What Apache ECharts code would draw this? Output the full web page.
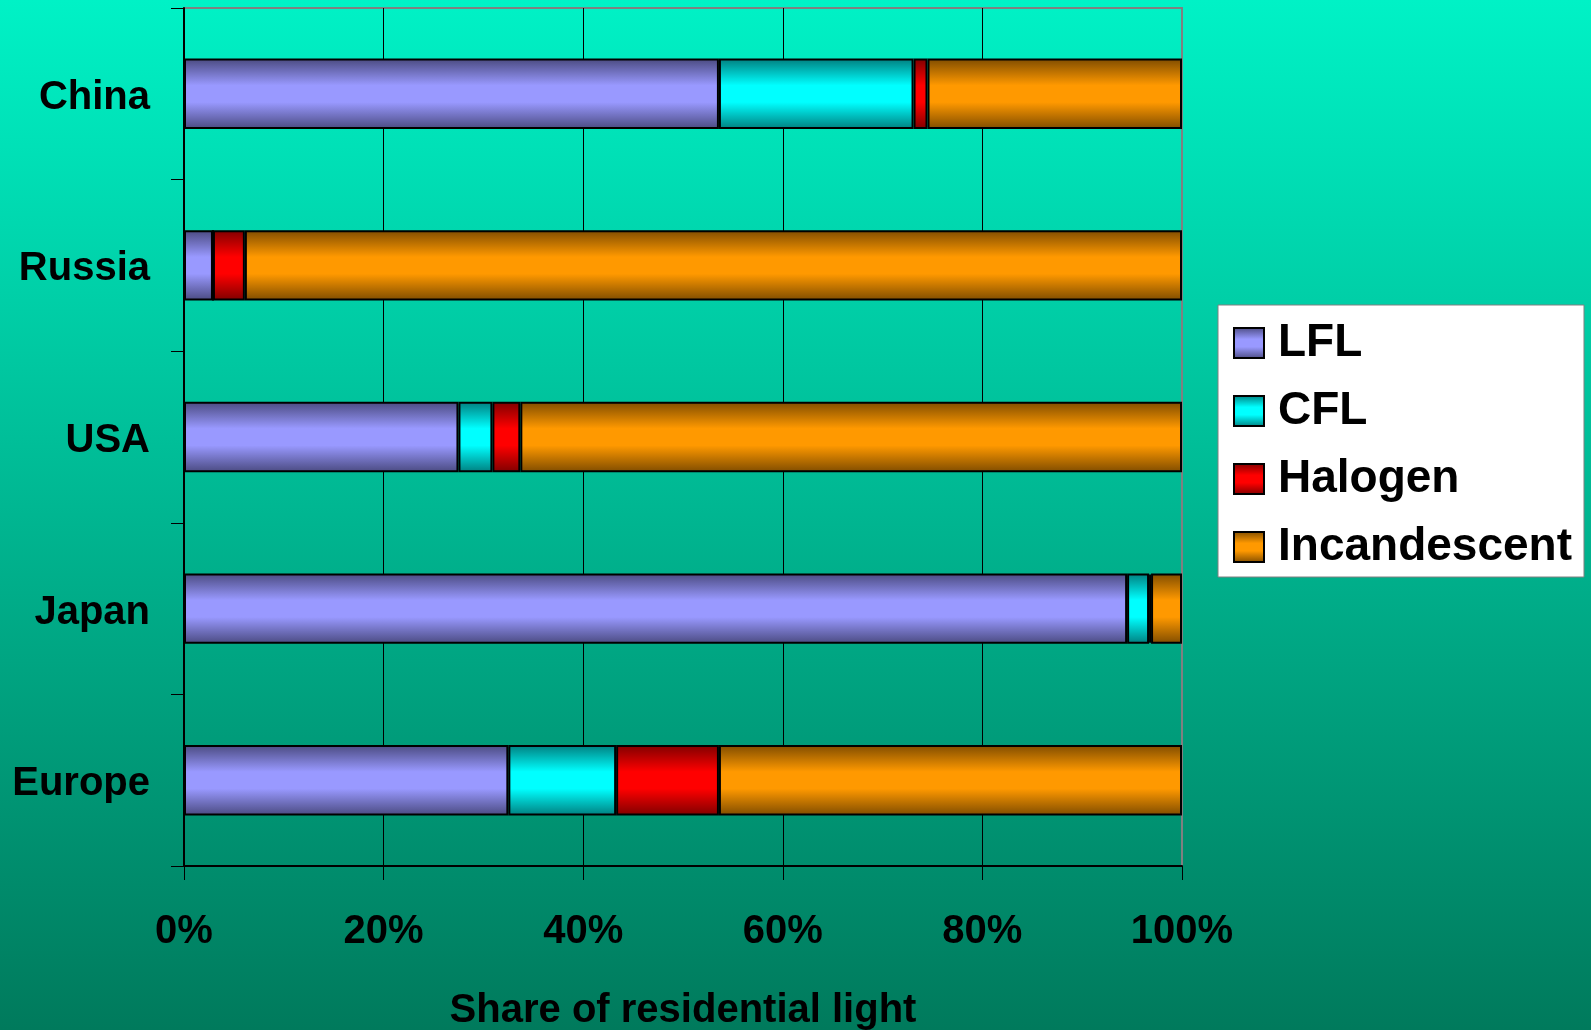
<!DOCTYPE html>
<html>
<head>
<meta charset="utf-8">
<script src="https://cdn.jsdelivr.net/npm/echarts@6/dist/echarts.min.js"></script>
<style>
  html, body { margin: 0; padding: 0; }
  #chart { width: 1591px; height: 1030px; }
</style>
</head>
<body>
<div id="chart"></div>
<script>
// Residential lighting mix by region (share of light, %)
const regions = ['China', 'Russia', 'USA', 'Japan', 'Europe'];
const lfl = [53.6, 2.9, 27.5, 94.5, 32.5];
const cfl = [19.5, 0, 3.4, 2.2, 10.8];
const halogen = [1.4, 3.2, 2.8, 0.2, 10.3];
const incandescent = [25.5, 93.9, 66.3, 3.1, 46.4];
const xTicks = [0, 20, 40, 60, 80, 100];

const FONT = '"Liberation Sans", Arial, sans-serif';

// Horizontal bars shaded darker at top and bottom edges
function shade(light, dark) {
  return new echarts.graphic.LinearGradient(0, 0, 0, 1, [
    { offset: 0, color: dark },
    { offset: 0.38, color: light },
    { offset: 0.62, color: light },
    { offset: 1, color: dark }
  ]);
}

function makeSeries(name, values, light, dark) {
  return {
    name: name,
    type: 'bar',
    stack: 'share',
    barWidth: '41%',
    data: values,
    itemStyle: {
      color: shade(light, dark),
      borderColor: '#000',
      borderWidth: 2
    },
    emphasis: { disabled: true }
  };
}

const chart = echarts.init(document.getElementById('chart'), null, { renderer: 'canvas' });

chart.setOption({
  animation: false,
  backgroundColor: new echarts.graphic.LinearGradient(0, 0, 0, 1, [
    { offset: 0, color: '#00F2C6' },
    { offset: 1, color: '#007A5C' }
  ]),
  grid: {
    left: 184,
    right: 409,
    top: 8,
    bottom: 164,
    containLabel: false,
    outerBoundsMode: 'none',
    show: true,
    borderColor: '#808080',
    borderWidth: 2,
    backgroundColor: 'transparent'
  },
  legend: {
    orient: 'vertical',
    left: 1218,
    top: 305,
    icon: 'rect',
    itemWidth: 30,
    itemHeight: 30,
    itemGap: 20,
    padding: [14, 12, 6, 15],
    backgroundColor: '#ffffff',
    borderColor: '#808080',
    borderWidth: 1,
    borderRadius: 0,
    textStyle: {
      fontFamily: FONT,
      fontWeight: 'bold',
      fontSize: 46,
      lineHeight: 48,
      color: '#000',
      padding: [0, 0, 0, 9]
    },
    itemStyle: { borderColor: '#000', borderWidth: 2 },
    data: ['LFL', 'CFL', 'Halogen', 'Incandescent']
  },
  xAxis: {
    type: 'value',
    min: 0,
    max: 100,
    interval: 20,
    name: 'Share of residential light',
    nameLocation: 'middle',
    nameGap: 125,
    nameTextStyle: {
      fontFamily: FONT,
      fontWeight: 'bold',
      fontSize: 40,
      color: '#000'
    },
    axisLine: { show: true, lineStyle: { color: '#000', width: 2 } },
    axisTick: { show: true, length: 14, lineStyle: { color: '#000', width: 1 } },
    axisLabel: {
      margin: 46,
      fontFamily: FONT,
      fontWeight: 'bold',
      fontSize: 40,
      color: '#000',
      formatter: function (v) { return xTicks.indexOf(v) >= 0 ? v + '%' : ''; }
    },
    splitLine: {
      show: true,
      lineStyle: { color: ['#000', '#000', '#000', '#000', '#000', '#808080'], width: 1 }
    }
  },
  yAxis: {
    type: 'category',
    inverse: true,
    data: regions,
    axisLine: { show: true, lineStyle: { color: '#000', width: 2 } },
    axisTick: { show: true, length: 13, lineStyle: { color: '#000', width: 1 } },
    axisLabel: {
      margin: 34,
      verticalAlign: 'top',
      lineHeight: 8,
      fontFamily: FONT,
      fontWeight: 'bold',
      fontSize: 40,
      color: '#000'
    },
    splitLine: { show: false }
  },
  series: [
    makeSeries('LFL', lfl, '#9999FF', '#4A4A80'),
    makeSeries('CFL', cfl, '#00FFFF', '#007F7F'),
    makeSeries('Halogen', halogen, '#FF0000', '#7F0000'),
    makeSeries('Incandescent', incandescent, '#FF9900', '#7F4C00')
  ]
});
</script>
</body>
</html>
